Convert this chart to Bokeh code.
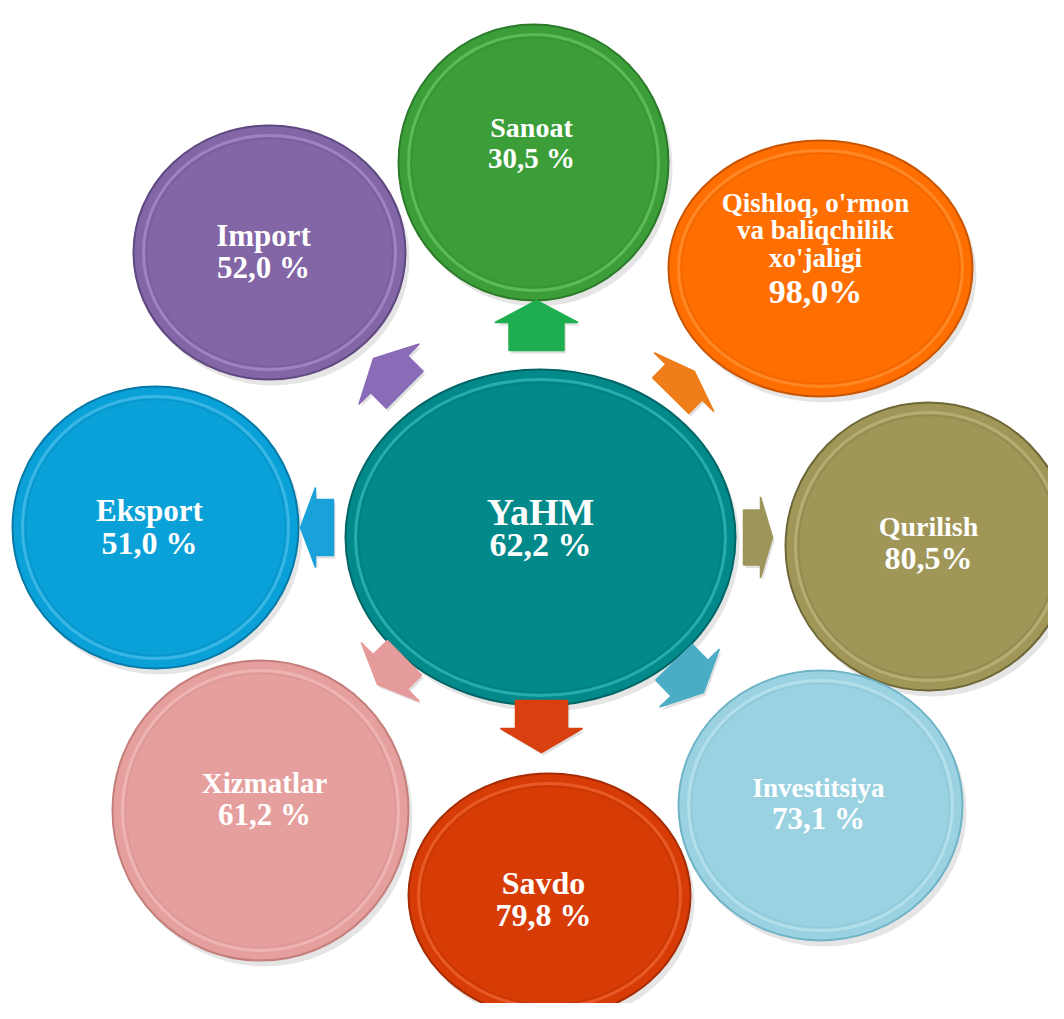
import math
from bokeh.plotting import figure
from bokeh.models import Range1d
from bokeh.core.properties import value
from bokeh.embed import file_html
from bokeh.resources import INLINE

# ---- data ----
center_label = "YaHM"
center_value = "62,2 %"
labels = ["Sanoat", "Qishloq, o'rmon\nva baliqchilik\nxo'jaligi", "Qurilish", "Investitsiya",
          "Savdo", "Xizmatlar", "Eksport", "Import"]
values = ["30,5 %", "98,0%", "80,5%", "73,1 %", "79,8 %", "61,2 %", "51,0 %", "52,0 %"]

# ---- layout (pixel coordinates of the picture) ----
cx = [533, 820, 928, 820, 549, 260, 155, 269]
cy = [162, 268, 546, 805, 895, 810, 527, 252]
rx = [135, 152, 143, 142, 141, 148, 143, 136]
ry = [138, 128, 144, 135, 122, 150, 141, 127]
fills = ["#3c9e38", "#ff6e00", "#a09658", "#9bd2e2", "#d73b06", "#e5a09e", "#0aa1d8", "#8366a6"]
edges = ["#2b7a2a", "#c85400", "#6e6838", "#6fb3c6", "#a52c04", "#c47e7c", "#0679a6", "#5f4880"]
rims = ["#8fe08c", "#ffb060", "#d8d09a", "#d8f2fa", "#ff8a5a", "#fbd2d0", "#7fd6f6", "#c4aef0"]
arrow_cols = ["#1fae4f", "#ee7d1a", "#9d955a", "#4bacc6", "#d84010", "#e69b9b", "#1aa1d9", "#8a6bb8"]
# arrow: tip x, tip y, dir x, dir y, length, head length, head width, shaft width
arrows = [
    (536, 300, 0.0, -1.0, 50, 22, 83, 55),
    (694, 371, 0.70, -0.71, 34, 15, 84, 51),
    (772, 537, 1.0, 0.0, 29, 12, 81, 55),
    (703, 692, 0.70, 0.72, 42, 20, 83, 51),
    (541, 752, 0.0, 1.0, 52, 24, 82, 52),
    (377, 684, -0.71, 0.70, 38, 18, 83, 49),
    (300, 527, -1.0, 0.0, 33, 15, 80, 56),
    (373, 358, -0.71, -0.71, 44, 22, 85, 52),
]
label_font = ["28px", "27px", "28px", "27px", "32px", "29px", "31px", "31px"]
value_font = ["29px", "34px", "32px", "31px", "32px", "31px", "32px", "31px"]
text_shift = 11
label_base = [138, 213, 537, 798, 893, 793, 521, 246]
value_base = [168, 302, 568, 829, 925, 825, 553, 278]
text_x = [531, 815, 928, 818, 543, 264, 149, 263]
line_gap = 27.5

p = figure(width=1048, height=1003, output_backend="svg", toolbar_location=None,
           x_range=Range1d(0, 1048), y_range=Range1d(1003, 0), min_border=0)
p.axis.visible = False
p.grid.visible = False
p.outline_line_color = None
p.background_fill_color = "white"
p.border_fill_color = "white"

def draw_bubble(x, y, a, b, fill, edge, rim):
    p.ellipse(x=[x + 4], y=[y + 6], width=[2 * a], height=[2 * b],
              fill_color="#000000", fill_alpha=0.10, line_color=None)
    p.ellipse(x=[x], y=[y], width=[2 * a], height=[2 * b],
              fill_color=fill, line_color=edge, line_width=2)
    p.ellipse(x=[x], y=[y], width=[2 * a - 20], height=[2 * b - 20],
              fill_color=None, line_color=rim, line_width=3, line_alpha=0.4)
    p.ellipse(x=[x], y=[y], width=[2 * a - 26], height=[2 * b - 26],
              fill_color=None, line_color=edge, line_width=1.5, line_alpha=0.25)

for i in range(len(labels)):
    draw_bubble(cx[i], cy[i], rx[i], ry[i], fills[i], edges[i], rims[i])
draw_bubble(540, 537, 195, 168, "#02898a", "#016566", "#5fe0e0")

xs, ys, cols = [], [], []
for (tx, ty, dx, dy, L, hl, hw, sw), c in zip(arrows, arrow_cols):
    nx, ny = -dy, dx
    local = [(0, 0), (-hl, hw / 2), (-hl, sw / 2), (-L, sw / 2),
             (-L, -sw / 2), (-hl, -sw / 2), (-hl, -hw / 2)]
    xs.append([tx + u * dx + v * nx for u, v in local])
    ys.append([ty + u * dy + v * ny for u, v in local])
    cols.append(c)
p.patches(xs=[[x + 2 for x in xx] for xx in xs], ys=[[y + 3 for y in yy] for yy in ys],
          fill_color="#000000", fill_alpha=0.12, line_color=None)
p.patches(xs=xs, ys=ys, fill_color=cols, line_color=cols, line_width=1.5)

font = value("Liberation Serif")
for i in range(len(labels)):
    lines = labels[i].split("\n")
    for k, ln in enumerate(lines):
        p.text(x=[text_x[i]], y=[label_base[i] - text_shift + k * line_gap], text=[ln],
               text_font=font, text_font_style="bold", text_font_size=label_font[i],
               text_color="white", text_align="center", text_baseline="alphabetic")
    p.text(x=[text_x[i]], y=[value_base[i] - text_shift], text=[values[i]],
           text_font=font, text_font_style="bold", text_font_size=value_font[i],
           text_color="white", text_align="center", text_baseline="alphabetic")

p.text(x=[540], y=[522 - text_shift], text=[center_label], text_font=font, text_font_style="bold",
       text_font_size="38px", text_color="white", text_align="center", text_baseline="alphabetic")
p.text(x=[540], y=[555 - text_shift], text=[center_value], text_font=font, text_font_style="bold",
       text_font_size="34px", text_color="white", text_align="center", text_baseline="alphabetic")

open("out.html", "w").write(file_html(p, INLINE))
